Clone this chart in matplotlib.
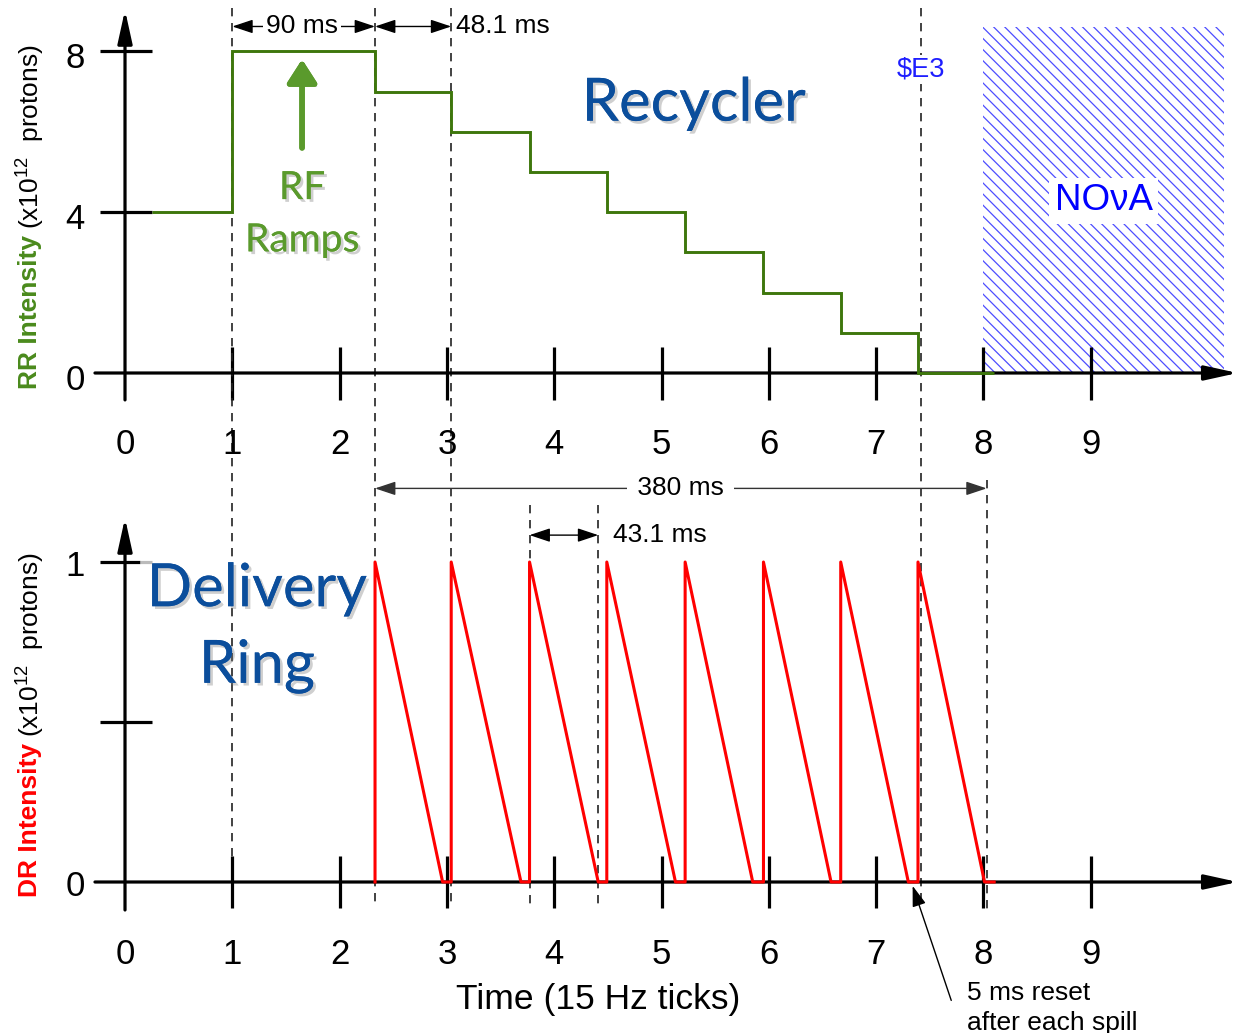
import matplotlib
matplotlib.use("Agg")
import matplotlib.pyplot as plt
import matplotlib.patheffects as pe
from matplotlib.patches import Rectangle
from matplotlib.transforms import blended_transform_factory

plt.rcParams['font.family'] = ['Liberation Sans', 'DejaVu Sans']
plt.rcParams['mathtext.fontset'] = 'custom'
plt.rcParams['mathtext.rm'] = 'Liberation Sans'
plt.rcParams['hatch.linewidth'] = 0.9

# --- data -------------------------------------------------------------
x_ticks = [0, 1, 2, 3, 4, 5, 6, 7, 8, 9]
rr_yticks = [0, 4, 8]
dr_yticks = [0, 0.5, 1]
dr_ytick_labels = {0: '0', 1: '1'}

# recycler intensity (x1e12) as steps
rr_edges = [0.25, 1.0, 2.33, 3.04, 3.77, 4.49, 5.22, 5.95, 6.67, 7.39, 8.10]
rr_levels = [4, 8, 7, 6, 5, 4, 3, 2, 1, 0]

# delivery ring spills: injection time, time beam is gone, peak
spill_start = [2.33, 3.04, 3.77, 4.49, 5.22, 5.95, 6.67, 7.39]
spill_empty = [2.96, 3.69, 4.41, 5.13, 5.85, 6.58, 7.30, 8.01]
spill_peak = 1.0
last_reset_end = 8.10

nova_window = (8.0, 10.24)
nova_top = 8.6

GREEN_LINE = '#3e770c'
GREEN_TXT = '#5a9a2c'
BLUE_TXT = '#0b4e9c'
W, H = 1240, 1033

fig = plt.figure(figsize=(12.4, 10.33), dpi=100)

# two panels sharing the same horizontal mapping
ax1 = fig.add_axes([0, 1 - 470 / H, 1, 470 / H])
ax1.set_xlim(-1.165, 10.391)
ax1.set_ylim(-97 / 40.2, 373 / 40.2)
ax2 = fig.add_axes([0, 0, 1, 563 / H])
ax2.set_xlim(-1.165, 10.391)
ax2.set_ylim(-151 / 320, 412 / 320)
for ax in (ax1, ax2):
    ax.axis('off')

def fy(py):
    return 1 - py / H

def axis_arrow(ax, start, end):
    ax.annotate('', xy=end, xytext=start,
                arrowprops=dict(arrowstyle='-|>,head_length=1.0,head_width=0.22',
                                color='black', lw=2.3, shrinkA=0, shrinkB=0,
                                mutation_scale=20))

def dim_arrow(ax, x0, x1, y, color='black', lw=1.0):
    ax.annotate('', xy=(x1, y), xytext=(x0, y),
                arrowprops=dict(arrowstyle='<|-|>,head_length=0.9,head_width=0.3',
                                color=color, lw=lw, shrinkA=0, shrinkB=0,
                                mutation_scale=14))

shadow = [pe.withSimplePatchShadow(offset=(2, -2), shadow_rgbFace='#777777', alpha=0.35),
          pe.Normal()]

# --- top panel: recycler ---------------------------------------------
axis_arrow(ax1, (0, -0.67), (0, 9.03))
axis_arrow(ax1, (-0.28, 0), (10.37, 0))
for v in rr_yticks[1:]:
    ax1.plot([-0.233, 0.25], [v, v], color='black', lw=2.3, solid_capstyle='butt')
for v in rr_yticks:
    ax1.text(-0.466, v - 0.18, str(v), fontsize=25, ha='center', va='center')
for v in x_ticks:
    if v > 0:
        ax1.plot([v, v], [0.65, -0.67], color='black', lw=2.3, solid_capstyle='butt')
    ax1.text(v, -1.79, str(v), fontsize=25, ha='center', va='center')

ax1.add_patch(Rectangle((nova_window[0], 0), nova_window[1] - nova_window[0], nova_top,
                        fill=False, hatch='\\\\\\', edgecolor='#4d4dff', lw=0, zorder=1))
ax1.text(9.12, 4.28, 'NO\u03bdA', fontsize=26.5, color='#0000ff', ha='center', va='center',
         bbox=dict(facecolor='white', edgecolor='none', pad=4), zorder=3)

ax1.stairs(rr_levels, rr_edges, baseline=None, color=GREEN_LINE, lw=2.1, zorder=4)

ax1.annotate('', xy=(1.65, 7.8), xytext=(1.65, 5.6),
             arrowprops=dict(arrowstyle='-|>,head_length=0.7,head_width=0.45',
                             color=GREEN_TXT, lw=4, shrinkA=0, shrinkB=0,
                             mutation_scale=20, path_effects=shadow))
ax1.text(1.65, 4.6, 'RF', fontsize=28, color=GREEN_TXT, family='Lato',
         ha='center', va='center', path_effects=shadow)
ax1.text(1.65, 3.3, 'Ramps', fontsize=28, color=GREEN_TXT, family='Lato',
         ha='center', va='center', path_effects=shadow)
ax1.text(5.3, 6.7, 'Recycler', fontsize=43, color=BLUE_TXT, family='Lato',
         ha='center', va='center', path_effects=shadow)

# dimension arrows
dim_arrow(ax1, 1.0, 2.33, 8.62)
ax1.text(1.65, 8.62, '90 ms', fontsize=19, ha='center', va='center',
         bbox=dict(facecolor='white', edgecolor='none', pad=2))
dim_arrow(ax1, 2.33, 3.04, 8.62)
ax1.text(3.08, 8.62, '48.1 ms', fontsize=19, ha='left', va='center')
ax1.text(7.42, 7.55, '$E3', fontsize=19.5, color='#1e1eff', ha='center', va='center',
         bbox=dict(facecolor='white', edgecolor='none', pad=1), zorder=3)

# --- bottom panel: delivery ring --------------------------------------
axis_arrow(ax2, (0, -0.0875), (0, 1.1375))
axis_arrow(ax2, (-0.28, 0), (10.37, 0))
for v in dr_yticks[1:]:
    ax2.plot([-0.233, 0.14 if v == 1 else 0.25], [v, v], color='black', lw=2.3,
             solid_capstyle='butt')
ax2.plot([0.14, 0.25], [1, 1], color='#bbbbbb', lw=2.3, solid_capstyle='butt')
for v, lab in dr_ytick_labels.items():
    ax2.text(-0.466, v - 0.014, lab, fontsize=25, ha='center', va='center')
for v in x_ticks:
    if v > 0:
        ax2.plot([v, v], [0.081, -0.081], color='black', lw=2.3, solid_capstyle='butt')
    ax2.text(v, -0.225, str(v), fontsize=25, ha='center', va='center')
ax2.text(4.41, -0.366, 'Time (15 Hz ticks)', fontsize=25.5, ha='center', va='center')

sx, sy = [], []
for i, (s, e) in enumerate(zip(spill_start, spill_empty)):
    nxt = spill_start[i + 1] if i + 1 < len(spill_start) else last_reset_end
    sx += [s, s, e, nxt]
    sy += [0, spill_peak, 0, 0]
ax2.plot(sx, sy, color='#ff0000', lw=2.2, zorder=4)

ax2.text(1.23, 0.915, 'Delivery', fontsize=43, color=BLUE_TXT, family='Lato',
         ha='center', va='center', path_effects=shadow, zorder=5)
ax2.text(1.23, 0.675, 'Ring', fontsize=43, color=BLUE_TXT, family='Lato',
         ha='center', va='center', path_effects=shadow, zorder=5)

ax2.annotate('', xy=(8.03, 1.23), xytext=(2.33, 1.23),
             arrowprops=dict(arrowstyle='<|-|>,head_length=0.9,head_width=0.3',
                             color='#333333', lw=1.0, shrinkA=0, shrinkB=0, mutation_scale=14))
ax2.text(5.18, 1.23, ' 380 ms ', fontsize=19, ha='center', va='center',
         bbox=dict(facecolor='white', edgecolor='none', pad=2))
dim_arrow(ax2, 3.77, 4.41, 1.084)
ax2.text(4.55, 1.084, '43.1 ms', fontsize=19, ha='left', va='center')

ax2.annotate('', xy=(7.34, -0.012), xytext=(7.70, -0.370),
             arrowprops=dict(arrowstyle='-|>,head_length=0.9,head_width=0.3',
                             color='black', lw=1.0, shrinkA=0, shrinkB=0, mutation_scale=14))
ax2.text(7.85, -0.347, '5 ms reset', fontsize=19, ha='left', va='center')
ax2.text(7.85, -0.44, 'after each spill', fontsize=19, ha='left', va='center')

# --- dashed markers spanning the figure -------------------------------
tr = blended_transform_factory(ax1.transData, fig.transFigure)
dash_lines = [(1.0, 8, 905), (2.33, 8, 908), (3.04, 8, 908), (7.42, 8, 908),
              (3.77, 505, 905), (4.41, 505, 905), (8.03, 480, 910)]
for x, p0, p1 in dash_lines:
    ax1.plot([x, x], [fy(p0), fy(p1)], transform=tr, clip_on=False, color='#222222',
             lw=1.2, dashes=(5, 4), zorder=2)

# --- y labels: coloured name + black units ----------------------------
fig.canvas.draw()
r = fig.canvas.get_renderer()
for name, color, py in [('RR Intensity', '#4a8a1c', 389), ('DR Intensity', '#ff0000', 897)]:
    t = fig.text(30 / W, fy(py), name, fontsize=19, weight='bold', color=color,
                 rotation=90, ha='center', va='bottom')
    top = t.get_window_extent(r).y1
    fig.text(30 / W, (top + 6) / H, '(x10$^{12}$  protons)', fontsize=19,
             rotation=90, ha='center', va='bottom')

fig.savefig('out.png', dpi=100)
